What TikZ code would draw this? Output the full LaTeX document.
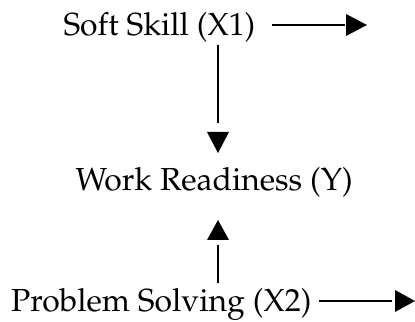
\documentclass[tikz,border=0pt]{standalone}
\usepackage[T1]{fontenc}
\usepackage{mathpazo}
\usetikzlibrary{calc}
\begin{document}
\begin{tikzpicture}[x=1bp,y=1bp,
  lbl/.style={inner sep=0pt, outer sep=0pt, font=\fontsize{32}{38}\selectfont, anchor=base west},
  conn/.style={line width=2bp},
  head/.style={fill=black}]
\useasboundingbox (0,0) rectangle (415,322);
% text nodes
\node[lbl] (x1) at (63.5,287) {Soft Skill (X1)};
\node[lbl] (y)  at (75.5,132)  {Work Readiness (Y)};
\node[lbl] (x2) at (11,11) {Problem Solving (X2)};
% free ends of connectors
\coordinate (e1) at (345,297);
\coordinate (e2) at (218,199);
\coordinate (e3) at (218,77);
\coordinate (e4) at (392,21);
% connectors
\draw[conn] ($(x1.east |- e1)+(17,0)$) -- (e1);
\draw[conn] ($(x1.south -| e2)+(0,-3)$) -- (e2);
\draw[conn] ($(x2.north -| e3)+(0,4.5)$) -- (e3);
\draw[conn] ($(x2.east |- e4)+(8,0)$) -- (e4);
% arrow heads
\fill[head] (346,286) -- (346,308) -- (367,297) -- cycle;
\fill[head] (207,190) -- (229,190) -- (218,169) -- cycle;
\fill[head] (207,82) -- (229,82) -- (218,102) -- cycle;
\fill[head] (395,10) -- (395,32) -- (415,21) -- cycle;
\end{tikzpicture}
\end{document}
